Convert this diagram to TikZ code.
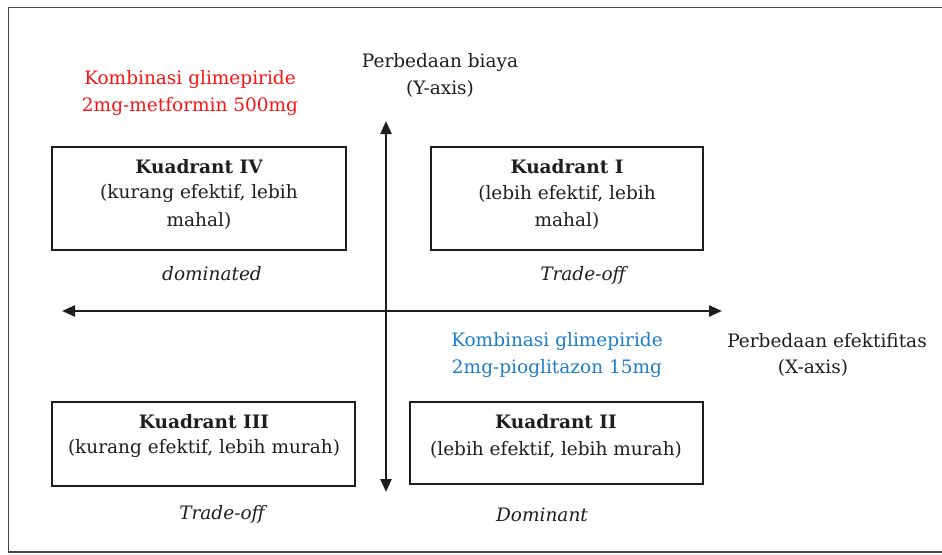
\documentclass[tikz,border=0pt]{standalone}
\usepackage{fontspec}
\setmainfont{DejaVu Serif}
\usetikzlibrary{arrows.meta}
\definecolor{redtxt}{RGB}{250,20,20}
\definecolor{bluetxt}{RGB}{30,125,205}
\definecolor{framegray}{RGB}{70,70,70}
\definecolor{inkgray}{RGB}{30,30,30}
\tikzset{
  qbox/.style={draw=inkgray, line width=1.4pt},
  txt/.style={inner sep=0pt, anchor=center, text=inkgray, font=\fontsize{18.5}{22}\selectfont},
  axis/.style={line width=2.4pt, draw=inkgray, {Triangle[length=13pt,width=11pt]}-{Triangle[length=13pt,width=11pt]}}
}
\begin{document}
\begin{tikzpicture}[x=1pt,y=-1pt]
\useasboundingbox (0,0) rectangle (942,554);
% frame
\draw[framegray, line width=1.6pt] (960,7.5) -- (8.5,7.5) -- (8.5,552) -- (960,552);
% boxes
\draw[qbox] (52,147) rectangle (346,250);
\draw[qbox] (431,147) rectangle (703,250);
\draw[qbox] (52,402) rectangle (355,486);
\draw[qbox] (410,402) rectangle (703,484);
% axes
\coordinate (yt) at (386,121);
\coordinate (yb) at (386,492);
\coordinate (xl) at (62,311);
\coordinate (xr) at (722,311);
\draw[axis] (yb) -- (yt);
\draw[axis] (xl) -- (xr);
% axis labels
\node[txt] (yl1) at (440,63) {Perbedaan biaya};
\node[txt] (yl2) at (440,89) {(Y-axis)};
\node[txt] (xl1) at (827,341) {Perbedaan efektifitas};
\node[txt] (xl2) at (813,368) {(X-axis)};
% colored labels
\node[txt, text=redtxt] (r1) at (190,80) {Kombinasi glimepiride};
\node[txt, text=redtxt] (r2) at (190,107) {2mg-metformin 500mg};
\node[txt, text=bluetxt] (b1) at (557,342) {Kombinasi glimepiride};
\node[txt, text=bluetxt] (b2) at (557,369) {2mg-pioglitazon 15mg};
% box texts
\node[txt] (q4a) at (199,167) {\bfseries Kuadrant IV};
\node[txt] (q4b) at (199,194) {(kurang efektif, lebih};
\node[txt] (q4c) at (199,221) {mahal)};
\node[txt] (q1a) at (567,167) {\bfseries Kuadrant I};
\node[txt] (q1b) at (567,194) {(lebih efektif, lebih};
\node[txt] (q1c) at (567,221) {mahal)};
\node[txt] (q3a) at (204,422) {\bfseries Kuadrant III};
\node[txt] (q3b) at (204,449) {(kurang efektif, lebih murah)};
\node[txt] (q2a) at (556,422) {\bfseries Kuadrant II};
\node[txt] (q2b) at (556,450) {(lebih efektif, lebih murah)};
% italic labels
\node[txt] (d4) at (212,274) {\itshape dominated};
\node[txt] (d1) at (583,275) {\itshape Trade-off};
\node[txt] (d3) at (222,514) {\itshape Trade-off};
\node[txt] (d2) at (542,515) {\itshape Dominant};
\end{tikzpicture}
\end{document}
